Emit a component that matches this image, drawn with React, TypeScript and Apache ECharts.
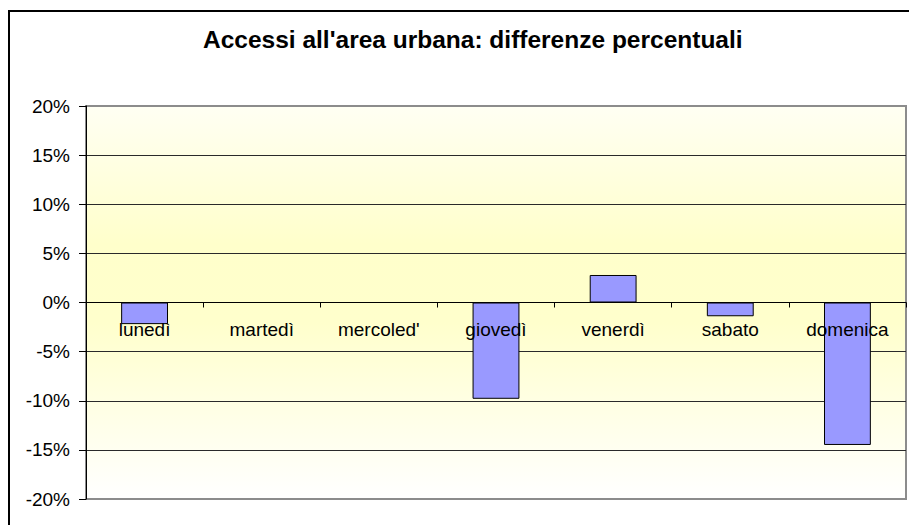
import React, { useEffect, useRef } from "react";
import * as echarts from "echarts";

const titleText = "Accessi all'area urbana: differenze percentuali";
const days = ["lunedì", "martedì", "mercoled'", "giovedì", "venerdì", "sabato", "domenica"];
const diffPercent = [-2.2, 0, 0, -9.8, 2.8, -1.4, -14.5];
const yMin = -20;
const yMax = 20;
const yStep = 5;

const FONT = "'Liberation Sans', Arial, sans-serif";
const GRID_TOP = 106;
const GRID_BOTTOM = 26;
const CHART_H = 525;

export default function App() {
  const ref = useRef<HTMLDivElement>(null);
  useEffect(() => {
    if (!ref.current) return;
    const chart = echarts.init(ref.current, undefined, { renderer: "svg" });
    const gridColors: string[] = [];
    const n = Math.round((yMax - yMin) / yStep) + 1;
    for (let i = 0; i < n; i++) gridColors.push(i === 0 || i === n - 1 ? "#8c8c8c" : "#2a2a2a");
    const plotH = CHART_H - GRID_TOP - GRID_BOTTOM;
    const zeroOffset = -((0 - yMin) / (yMax - yMin)) * plotH;
    chart.setOption({
      animation: false,
      backgroundColor: "#ffffff",
      title: {
        text: titleText,
        left: 203,
        top: 27,
        padding: 0,
        textStyle: { fontFamily: FONT, fontSize: 24.5, fontWeight: "bold", color: "#000" },
      },
      graphic: [
        {
          type: "rect",
          shape: { x: 9, y: 11, width: 1200, height: 1200 },
          style: { fill: "none", stroke: "#000", lineWidth: 2 },
          silent: true,
          z: 100,
        },
      ],
      grid: {
        left: 86,
        top: GRID_TOP,
        right: 3,
        bottom: GRID_BOTTOM,
        show: true,
        borderColor: "#8c8c8c",
        borderWidth: 2,
        backgroundColor: new echarts.graphic.LinearGradient(0, 0, 0, 1, [
          { offset: 0, color: "#fffff3" },
          { offset: 0.35, color: "#ffffcb" },
          { offset: 0.55, color: "#ffffcc" },
          { offset: 1, color: "#ffffff" },
        ]),
      },
      xAxis: {
        type: "category",
        data: days,
        position: "bottom",
        offset: zeroOffset,
        axisLine: { onZero: false, lineStyle: { color: "#000", width: 1 } },
        axisTick: { show: true, length: 5, lineStyle: { color: "#000" } },
        axisLabel: {
          interval: 0,
          margin: 17,
          color: "#000",
          fontFamily: FONT,
          fontSize: 19,
        },
        z: 10,
      },
      yAxis: {
        type: "value",
        min: yMin,
        max: yMax,
        interval: yStep,
        axisLine: { show: true, lineStyle: { color: "#000", width: 1 } },
        axisTick: { show: true, length: 7, lineStyle: { color: "#000" } },
        axisLabel: {
          formatter: "{value}%",
          margin: 16,
          color: "#000",
          fontFamily: FONT,
          fontSize: 19,
        },
        splitLine: { show: true, lineStyle: { color: gridColors, width: 1 } },
      },
      series: [
        {
          type: "bar",
          data: diffPercent,
          barWidth: "40%",
          itemStyle: { color: "#9999ff", borderColor: "#000", borderWidth: 1 },
          z: 2,
        },
      ],
    });
    return () => chart.dispose();
  }, []);
  return <div ref={ref} style={{ width: 909, height: 525, position: "absolute", left: 0, top: 0 }} />;
}
